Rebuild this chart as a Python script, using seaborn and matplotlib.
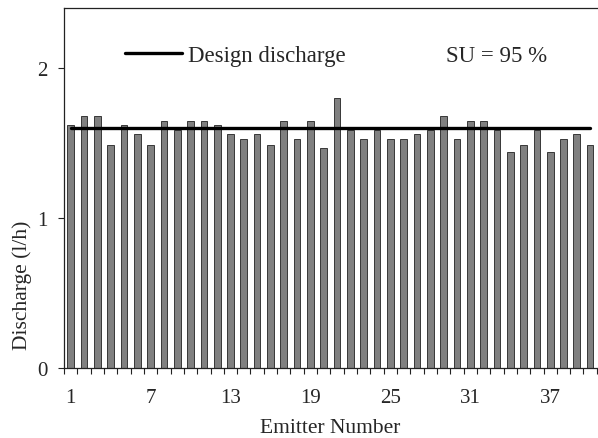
# plot.py
# Emitter discharge along a lateral, bar chart with the design discharge line
import numpy as np
import pandas as pd
import matplotlib
matplotlib.use("Agg")
import matplotlib.pyplot as plt
import seaborn as sb

# values (l/h)
emitters = list(range(1, 41))
discharge = [1.62, 1.68, 1.68, 1.49, 1.62, 1.56, 1.49, 1.65, 1.59, 1.65,
             1.65, 1.62, 1.56, 1.53, 1.56, 1.49, 1.65, 1.53, 1.65, 1.47,
             1.80, 1.59, 1.53, 1.59, 1.53, 1.53, 1.56, 1.59, 1.68, 1.53,
             1.65, 1.65, 1.59, 1.44, 1.49, 1.59, 1.44, 1.53, 1.56, 1.49]
design_q = 1.6
su_text = "SU = 95 %"
tick_every = 6
y_ticks = [0, 1, 2]

sb.set_style("white")
plt.rcParams['font.family'] = ['Liberation Serif', 'DejaVu Serif']

df = pd.DataFrame({"emitter": emitters, "q": discharge})
df["design"] = design_q

fig = plt.figure(figsize=(5.98, 4.39), dpi=100)
ax = fig.add_axes([0.107, 0.159, 0.891, 0.8205])

sb.barplot(data=df, x="emitter", y="q", color="#808080", saturation=1,
           width=0.5, edgecolor="#222222", linewidth=0.6, ax=ax)

# design discharge line over the bar centres
pos = np.arange(len(emitters))
ax.plot(pos, df["design"], color="black", lw=2.4, label="Design discharge")

ax.set_xlim(-0.5, len(emitters) - 0.5)
ax.set_ylim(0, 2.4)
ax.set_yticks(y_ticks)
ax.set_yticklabels([str(t) for t in y_ticks])

# labels every 6th emitter, small tick marks between the bars
lab_pos = pos[::tick_every]
ax.set_xticks(lab_pos)
ax.set_xticklabels([str(emitters[i]) for i in lab_pos])
ax.set_xticks(np.arange(len(emitters) + 1) - 0.5, minor=True)
ax.tick_params(axis="x", which="major", length=0, pad=14, labelsize=15)
ax.tick_params(axis="x", which="minor", length=4, width=0.8, direction="out",
               color="#222222", bottom=True)
ax.tick_params(axis="y", length=4, width=0.8, direction="out", color="#222222",
               left=True, pad=8, labelsize=15)

for s in ["left", "bottom", "top"]:
    ax.spines[s].set_color("#222222")
    ax.spines[s].set_linewidth(0.9)
ax.spines["right"].set_visible(False)

ax.set_xlabel("Emitter Number", fontsize=15.5, labelpad=8)
ax.set_ylabel("Discharge (l/h)", fontsize=15.5)
ax.yaxis.set_label_coords(-0.06, 0.233)

ax.legend(loc="center left", bbox_to_anchor=(0.114, 0.867), frameon=False,
          fontsize=16.5, handlelength=2.5, handletextpad=0.25,
          borderpad=0, borderaxespad=0)
ax.text(0.812, 0.867, su_text, transform=ax.transAxes, ha="center",
        va="center", fontsize=16.5)

plt.savefig("out.png", dpi=100)
